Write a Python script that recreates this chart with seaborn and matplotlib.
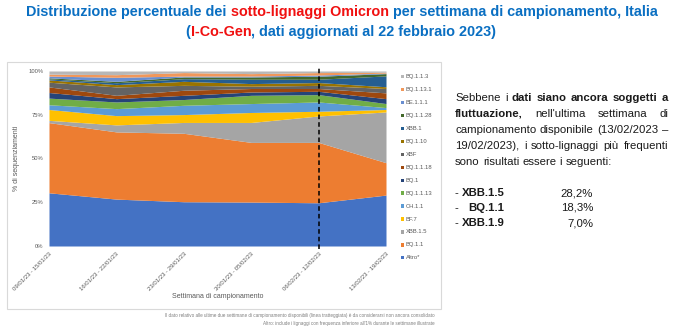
import matplotlib
matplotlib.use("Agg")
import matplotlib.pyplot as plt
import seaborn as sns
import numpy as np
from matplotlib import font_manager
from matplotlib.patches import Rectangle

# ---------------- data ----------------
weeks = ["09/01/23 - 15/01/23", "16/01/23 - 22/01/23", "23/01/23 - 29/01/23",
         "30/01/23 - 05/02/23", "06/02/23 - 12/02/23", "13/02/23 - 19/02/23"]
lineages = ["Altro*", "BQ.1.1", "XBB.1.5", "BF.7", "CH.1.1", "BQ.1.1.13", "BQ.1",
            "BQ.1.1.18", "XBF", "BQ.1.10", "XBB.1", "BQ.1.1.28", "BE.1.1.1",
            "BQ.1.13.1", "BQ.1.1.3"]
altro     = [30.4, 26.8, 25.3, 25.1, 24.7, 29.1]
bq_1_1    = [40.1, 38.4, 39.1, 34.1, 34.5, 18.5]
xbb_1_5   = [1.3, 4.0, 6.2, 11.4, 15.1, 29.0]
bf_7      = [6.2, 5.3, 4.5, 5.7, 2.7, 1.4]
ch_1_1    = [2.7, 4.0, 5.3, 5.1, 5.3, 1.1]
bq_1_1_13 = [3.8, 3.8, 3.3, 4.7, 4.2, 2.3]
bq_1      = [3.2, 1.9, 2.4, 1.9, 1.9, 2.8]
bq_1_1_18 = [3.2, 1.9, 2.9, 2.0, 1.6, 3.3]
xbf       = [2.7, 4.8, 2.8, 1.3, 1.8, 2.5]
bq_1_10   = [1.3, 1.3, 2.3, 1.5, 1.6, 1.0]
xbb_1     = [0.6, 1.1, 1.5, 2.5, 1.9, 6.2]
bq_1_1_28 = [0.6, 0.8, 1.0, 1.3, 1.7, 1.3]
be_1_1_1  = [1.0, 2.3, 0.5, 0.5, 0.7, 0.3]
bq_1_13_1 = [1.1, 1.5, 2.0, 1.4, 1.4, 0.5]
bq_1_1_3  = [1.8, 2.1, 0.9, 1.5, 0.9, 0.7]
series = [altro, bq_1_1, xbb_1_5, bf_7, ch_1_1, bq_1_1_13, bq_1, bq_1_1_18, xbf,
          bq_1_10, xbb_1, bq_1_1_28, be_1_1_1, bq_1_13_1, bq_1_1_3]
colors = ["#4472C4", "#ED7D31", "#A5A5A5", "#FFC000", "#5B9BD5", "#70AD47", "#264478",
          "#9E480E", "#636363", "#997300", "#255E91", "#43682B", "#698ED0",
          "#F1975A", "#B7B7B7"]
yticks = [0, 25, 50, 75, 100]
ytick_labels = ["0%", "25%", "50%", "75%", "100%"]

# ---------------- fonts ----------------
sns.set_theme(style="white")
avail = {f.name for f in font_manager.fontManager.ttflist}
SANS = "Liberation Sans" if "Liberation Sans" in avail else "DejaVu Sans"
plt.rcParams["font.family"] = [SANS, "DejaVu Sans"]

W, H = 675, 329
fig = plt.figure(figsize=(W / 100, H / 100), dpi=100)
fig.patch.set_facecolor("white")

def fx(px):
    return px / W

def fy(py):
    return 1 - py / H

# chart frame
fig.patches.append(Rectangle((fx(7), fy(309)), fx(441) - fx(7), fy(62) - fy(309),
                             transform=fig.transFigure, fill=False,
                             edgecolor="#D9D9D9", linewidth=0.8))

ax = fig.add_axes([fx(49), fy(246), fx(386) - fx(49), fy(71) - fy(246)])
x = np.arange(len(weeks))
ax.stackplot(x, *series, colors=colors, linewidth=0)
ax.set_xlim(0, len(weeks) - 1)
ax.set_ylim(0, 100)
ax.set_yticks(yticks)
ax.set_yticklabels(ytick_labels, fontsize=4.2, color="#595959")
ax.set_xticks(x)
ax.set_xticklabels(weeks, rotation=45, ha="right", rotation_mode="anchor",
                   fontsize=4.3, color="#595959")
ax.tick_params(axis="both", length=0, pad=4)
ax.set_ylabel("% di sequenziamenti", fontsize=5, color="#595959")
ax.yaxis.set_label_coords((20 - 49) / 337, 0.5)
ax.set_xlabel("Settimana di campionamento", fontsize=5, color="#595959")
ax.xaxis.set_label_coords((218 - 49) / 337, (246 - 296) / 175)
ax.xaxis.label.set_va("center")
sns.despine(ax=ax, left=True, bottom=True)
ax.axvline(4, ymin=-0.015, ymax=1.02, color="black", linestyle=(0, (3, 2)),
           linewidth=1.1, clip_on=False, zorder=5)

# legend (manual, top to bottom)
for i, (lab, col) in enumerate(zip(lineages[::-1], colors[::-1])):
    yy = 76.7 + i * 12.94
    fig.patches.append(Rectangle((fx(401), fy(yy + 1.6)), fx(3.3), 3.3 / H,
                                 transform=fig.transFigure, facecolor=col,
                                 edgecolor="none"))
    fig.text(fx(406), fy(yy), lab, fontsize=4.2, color="#595959", va="center", ha="left")

# footer notes
fig.text(fx(435), fy(316), "Il dato relativo alle ultime due settimane di campionamento disponibili "
         "(linea tratteggiata) è da considerarsi non ancora consolidato",
         fontsize=3.3, color="#7F7F7F", ha="right", va="center")
fig.text(fx(435), fy(323), "Altro: include i lignaggi con frequenza inferiore all'1% durante "
         "le settimane illustrate",
         fontsize=3.3, color="#7F7F7F", ha="right", va="center")

fig.canvas.draw()
renderer = fig.canvas.get_renderer()

def width_px(t):
    return t.get_window_extent(renderer=renderer).width

# title with coloured segments
BLUE = "#0A6FC2"
RED = "#F01010"

def seg_line(segments, cx, y, size):
    texts = []
    for s, c in segments:
        t = fig.text(0, fy(y), s, fontsize=size, color=c, fontweight="bold",
                     va="center", ha="left")
        texts.append(t)
    ws = [width_px(t) for t in texts]
    total = sum(ws)
    start = cx - total / 2
    for t, w in zip(texts, ws):
        t.set_x(fx(start))
        start += w
    return texts, total

line1 = [("Distribuzione percentuale dei ", BLUE), ("sotto-lignaggi Omicron", RED),
         (" per settimana di campionamento, Italia", BLUE)]
line2 = [("(", BLUE), ("I-Co-Gen", RED), (", dati aggiornati al 22 febbraio 2023)", BLUE)]
probe, tw = seg_line(line1, 342, 12, 11.5)
for t in probe:
    t.remove()
tsize = 11.5 * 634 / tw
seg_line(line1, 342, 12, tsize)
seg_line(line2, 341, 32, tsize)

# justified paragraph
PS = 8.2
TXT = "#1A1A1A"

def just_line(words, x0, x1, y, justify=True):
    texts = []
    for w, b in words:
        t = fig.text(0, fy(y), w, fontsize=PS, color=TXT,
                     fontweight="bold" if b else "normal", va="center", ha="left")
        texts.append(t)
    ws = [width_px(t) for t in texts]
    if justify and len(texts) > 1:
        gap = (x1 - x0 - sum(ws)) / (len(texts) - 1)
    else:
        sp = fig.text(0, 0, "a a", fontsize=PS)
        sp2 = fig.text(0, 0, "aa", fontsize=PS)
        gap = width_px(sp) - width_px(sp2)
        sp.remove(); sp2.remove()
    pos = x0
    for t, w in zip(texts, ws):
        t.set_x(fx(pos))
        pos += w + gap

def words(s, bold=False):
    return [(w, bold) for w in s.split()]

X0, X1 = 455, 668
just_line(words("Sebbene i") + words("dati siano ancora soggetti a", True), X0, X1, 98)
just_line(words("fluttuazione,", True) + words("nell'ultima settimana di"), X0, X1, 114)
just_line(words("campionamento disponibile (13/02/2023 –"), X0, X1, 130)
just_line(words("19/02/2023), i sotto-lignaggi più frequenti"), X0, X1, 146)
just_line(words("sono risultati essere i seguenti:"), X0, X1, 162, justify=False)

items = [("- ", "XBB.1.5", "28,2%"), ("-   ", "BQ.1.1", "18,3%"), ("- ", "XBB.1.9", "7,0%")]
for i, (dash, name, val) in enumerate(items):
    yy = 193 + i * 15
    t = fig.text(fx(X0), fy(yy), dash, fontsize=PS, color=TXT, va="center", ha="left")
    fig.canvas.draw()
    w = width_px(t)
    fig.text(fx(X0 + w), fy(yy), name, fontsize=PS, color=TXT, fontweight="bold",
             va="center", ha="left")
    fig.text(fx(593), fy(yy), val, fontsize=PS, color=TXT, va="center", ha="right")

fig.savefig("out.png", dpi=100, facecolor="white")
